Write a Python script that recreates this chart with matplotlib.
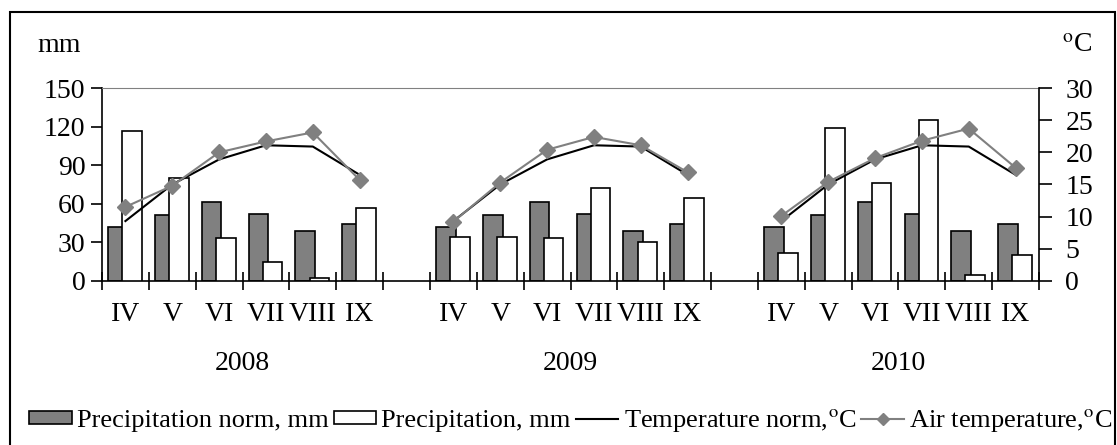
import numpy as np
import matplotlib
matplotlib.use('Agg')
import matplotlib.pyplot as plt
from matplotlib.patches import Rectangle
from matplotlib.lines import Line2D
from matplotlib.patches import Patch

plt.rcParams['font.family'] = ['Liberation Serif', 'DejaVu Serif']
plt.rcParams['mathtext.fontset'] = 'stix'
plt.rcParams['font.size'] = 20

# data: three seasons (IV..IX), an empty slot between years
years = ['2008', '2009', '2010']
months = ['IV', 'V', 'VI', 'VII', 'VIII', 'IX']
precip_norm = [42, 51, 61, 52, 39, 44]
precip_2008 = [117, 80, 33, 15, 2.5, 57]
precip_2009 = [34, 34, 33, 72, 30.5, 64.5]
precip_2010 = [21.5, 119, 76, 125, 4.5, 20]
temp_norm = [9.3, 15.0, 18.9, 21.1, 20.9, 16.5]
air_2008 = [11.5, 14.8, 20.0, 21.7, 23.1, 15.7]
air_2009 = [9.2, 15.3, 20.4, 22.4, 21.1, 16.9]
air_2010 = [10.1, 15.4, 19.1, 21.8, 23.7, 17.6]

precip = [precip_2008, precip_2009, precip_2010]
air = [air_2008, air_2009, air_2010]

# build slot arrays (6 months, 1 gap, 6 months, 1 gap, 6 months)
n = len(months)
labels = []
p_norm, p_obs, t_norm, t_air = [], [], [], []
for i, yr in enumerate(years):
    if i > 0:
        labels.append('')
        p_norm.append(np.nan); p_obs.append(np.nan)
        t_norm.append(np.nan); t_air.append(np.nan)
    labels += months
    p_norm += precip_norm
    p_obs += precip[i]
    t_norm += temp_norm
    t_air += air[i]
x = np.arange(len(labels))
p_norm = np.array(p_norm, dtype=float)
p_obs = np.array(p_obs, dtype=float)

fig = plt.figure(figsize=(11.17, 4.45), dpi=100)
ax = fig.add_axes([0.0913, 0.369, 0.8389, 0.433])

w = 0.42
ax.bar(x - 0.16, p_norm, width=w, color='#808080', edgecolor='black', linewidth=1.2, zorder=2)
ax.bar(x + 0.14, p_obs, width=w, color='white', edgecolor='black', linewidth=1.2, zorder=3)
ax.set_xlim(-0.5, len(labels) - 0.5)
ax.set_ylim(0, 150)
ax.set_yticks([0, 30, 60, 90, 120, 150])

ax.set_xticks(np.arange(-0.5, len(labels), 1.0))
ax.set_xticklabels([])
ax.tick_params(axis='x', which='major', direction='inout', length=13, width=1.2)
ax.set_xticks(x, minor=True)
ax.set_xticklabels(labels, minor=True)
ax.tick_params(axis='x', which='minor', length=0, pad=15)
ax.tick_params(axis='y', direction='out', length=8, width=1.2, pad=4)

for sp in ['left', 'bottom']:
    ax.spines[sp].set_linewidth(1.2)
ax.spines['top'].set_color('#808080')
ax.spines['right'].set_visible(False)

for i, yr in enumerate(years):
    ax.text(i * (n + 1) + (n - 1) / 2, -0.43, yr, transform=ax.get_xaxis_transform(),
            ha='center', va='center')

ax2 = ax.twinx()
ax2.set_ylim(0, 30)
ax2.set_yticks([0, 5, 10, 15, 20, 25, 30])
ax2.plot(x, t_norm, color='black', linewidth=1.5)
ax2.plot(x, t_air, color='#808080', linewidth=1.5, marker='D', markersize=8)
ax2.tick_params(axis='y', direction='out', length=9, width=1.2, pad=10)
ax2.spines['right'].set_linewidth(1.2)
ax2.spines['top'].set_visible(False)
ax2.spines['left'].set_visible(False)
ax2.spines['bottom'].set_visible(False)

fig.text(37 / 1117, 1 - 45 / 445, 'mm', ha='left', va='center')
fig.text(1062 / 1117, 1 - 45 / 445, r'$^{\mathrm{o}}$C', ha='left', va='center')

fig.patches.append(Rectangle((10 / 1117, -0.05), 1105 / 1117, 1.05 - 12 / 445,
                             transform=fig.transFigure, fill=False,
                             edgecolor='black', linewidth=1.5))

handles = [
    Patch(facecolor='#808080', edgecolor='black', linewidth=1.2),
    Patch(facecolor='white', edgecolor='black', linewidth=1.2),
    Line2D([], [], color='black', linewidth=1.5),
    Line2D([], [], color='#808080', linewidth=1.5, marker='D', markersize=6),
]
names = ['Precipitation norm, mm', 'Precipitation, mm',
         r'Temperature norm,$^{\mathrm{o}}$C', r'Air temperature,$^{\mathrm{o}}$C']
fig.legend(handles, names, loc='center', bbox_to_anchor=(0.511, 1 - 420 / 445), ncol=4,
           frameon=False, fontsize=19, handlelength=1.6, handleheight=0.38,
           handletextpad=0.2, columnspacing=0.2, borderaxespad=0, borderpad=0)

fig.savefig('out.png', dpi=100)
